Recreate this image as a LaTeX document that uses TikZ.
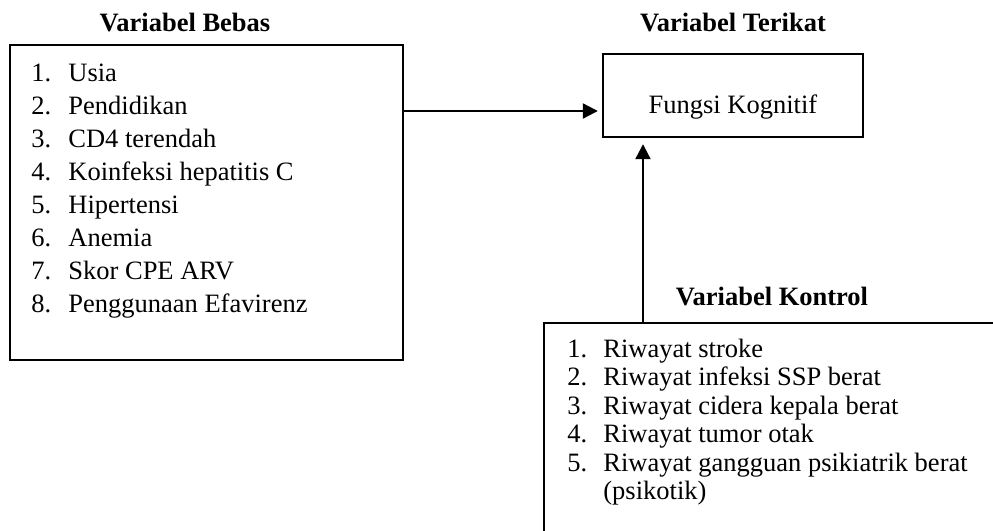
\documentclass[tikz,border=0pt]{standalone}
\usepackage{fontspec}
\setmainfont{Liberation Serif}
\usetikzlibrary{arrows.meta}
\begin{document}
\begin{tikzpicture}[x=0.5pt,y=-0.5pt,
  every node/.style={font=\fontsize{13.25}{16}\selectfont},
  box/.style={draw, line width=1.2pt, inner sep=0pt},
  conn/.style={line width=1.1pt, -{Triangle[length=7.5pt,width=7.5pt]}},
  title/.style={font=\fontsize{13.25}{16}\selectfont\bfseries, anchor=base, inner sep=0pt},
  item/.style={anchor=base west, inner sep=0pt}]
\useasboundingbox (0,0) rectangle (993,531);
\clip (0,0) rectangle (993,531);
% boxes
\node[box, minimum width=196.5pt, minimum height=157.5pt] (bebas) at (206.5,202.5) {};
\node[box, minimum width=130pt, minimum height=41.5pt, text height=19.5pt, text depth=2pt] (fk) at (733,95.5) {Fungsi Kognitif};
\node[box, minimum width=233pt, minimum height=118.5pt] (ctrl) at (777,441.5) {};
% titles
\node[title] (tb) at (185,31) {Variabel Bebas};
\node[title] (tt) at (733,31) {Variabel Terikat};
\node[title] (tk) at (772,305) {Variabel Kontrol};
% left list
\foreach \t [count=\i from 0] in {Usia,Pendidikan,CD4 terendah,Koinfeksi hepatitis C,Hipertensi,Anemia,Skor CPE ARV,Penggunaan Efavirenz}{
  \pgfmathtruncatemacro{\n}{\i+1}
  \node[item] (bn\n) at (31,81+33*\i) {\n.};
  \node[item] (bt\n) at (68,81+33*\i) {\t};
}
% right list
\foreach \t [count=\i from 0] in {Riwayat stroke,Riwayat infeksi SSP berat,Riwayat cidera kepala berat,Riwayat tumor otak,Riwayat gangguan psikiatrik berat}{
  \pgfmathtruncatemacro{\n}{\i+1}
  \node[item] (kn\n) at (567,357+28.5*\i) {\n.};
  \node[item] (kt\n) at (603,357+28.5*\i) {\t};
}
\node[item] (kt6) at (603,499.5) {(psikotik)};
% connectors
\coordinate (h) at (0,111);
\coordinate (v) at (643,0);
\draw[conn, shorten >=2pt] (bebas.east |- h) -- (fk.west |- h);
\draw[conn, shorten >=3pt] (ctrl.north -| v) -- (fk.south -| v);
\end{tikzpicture}
\end{document}
